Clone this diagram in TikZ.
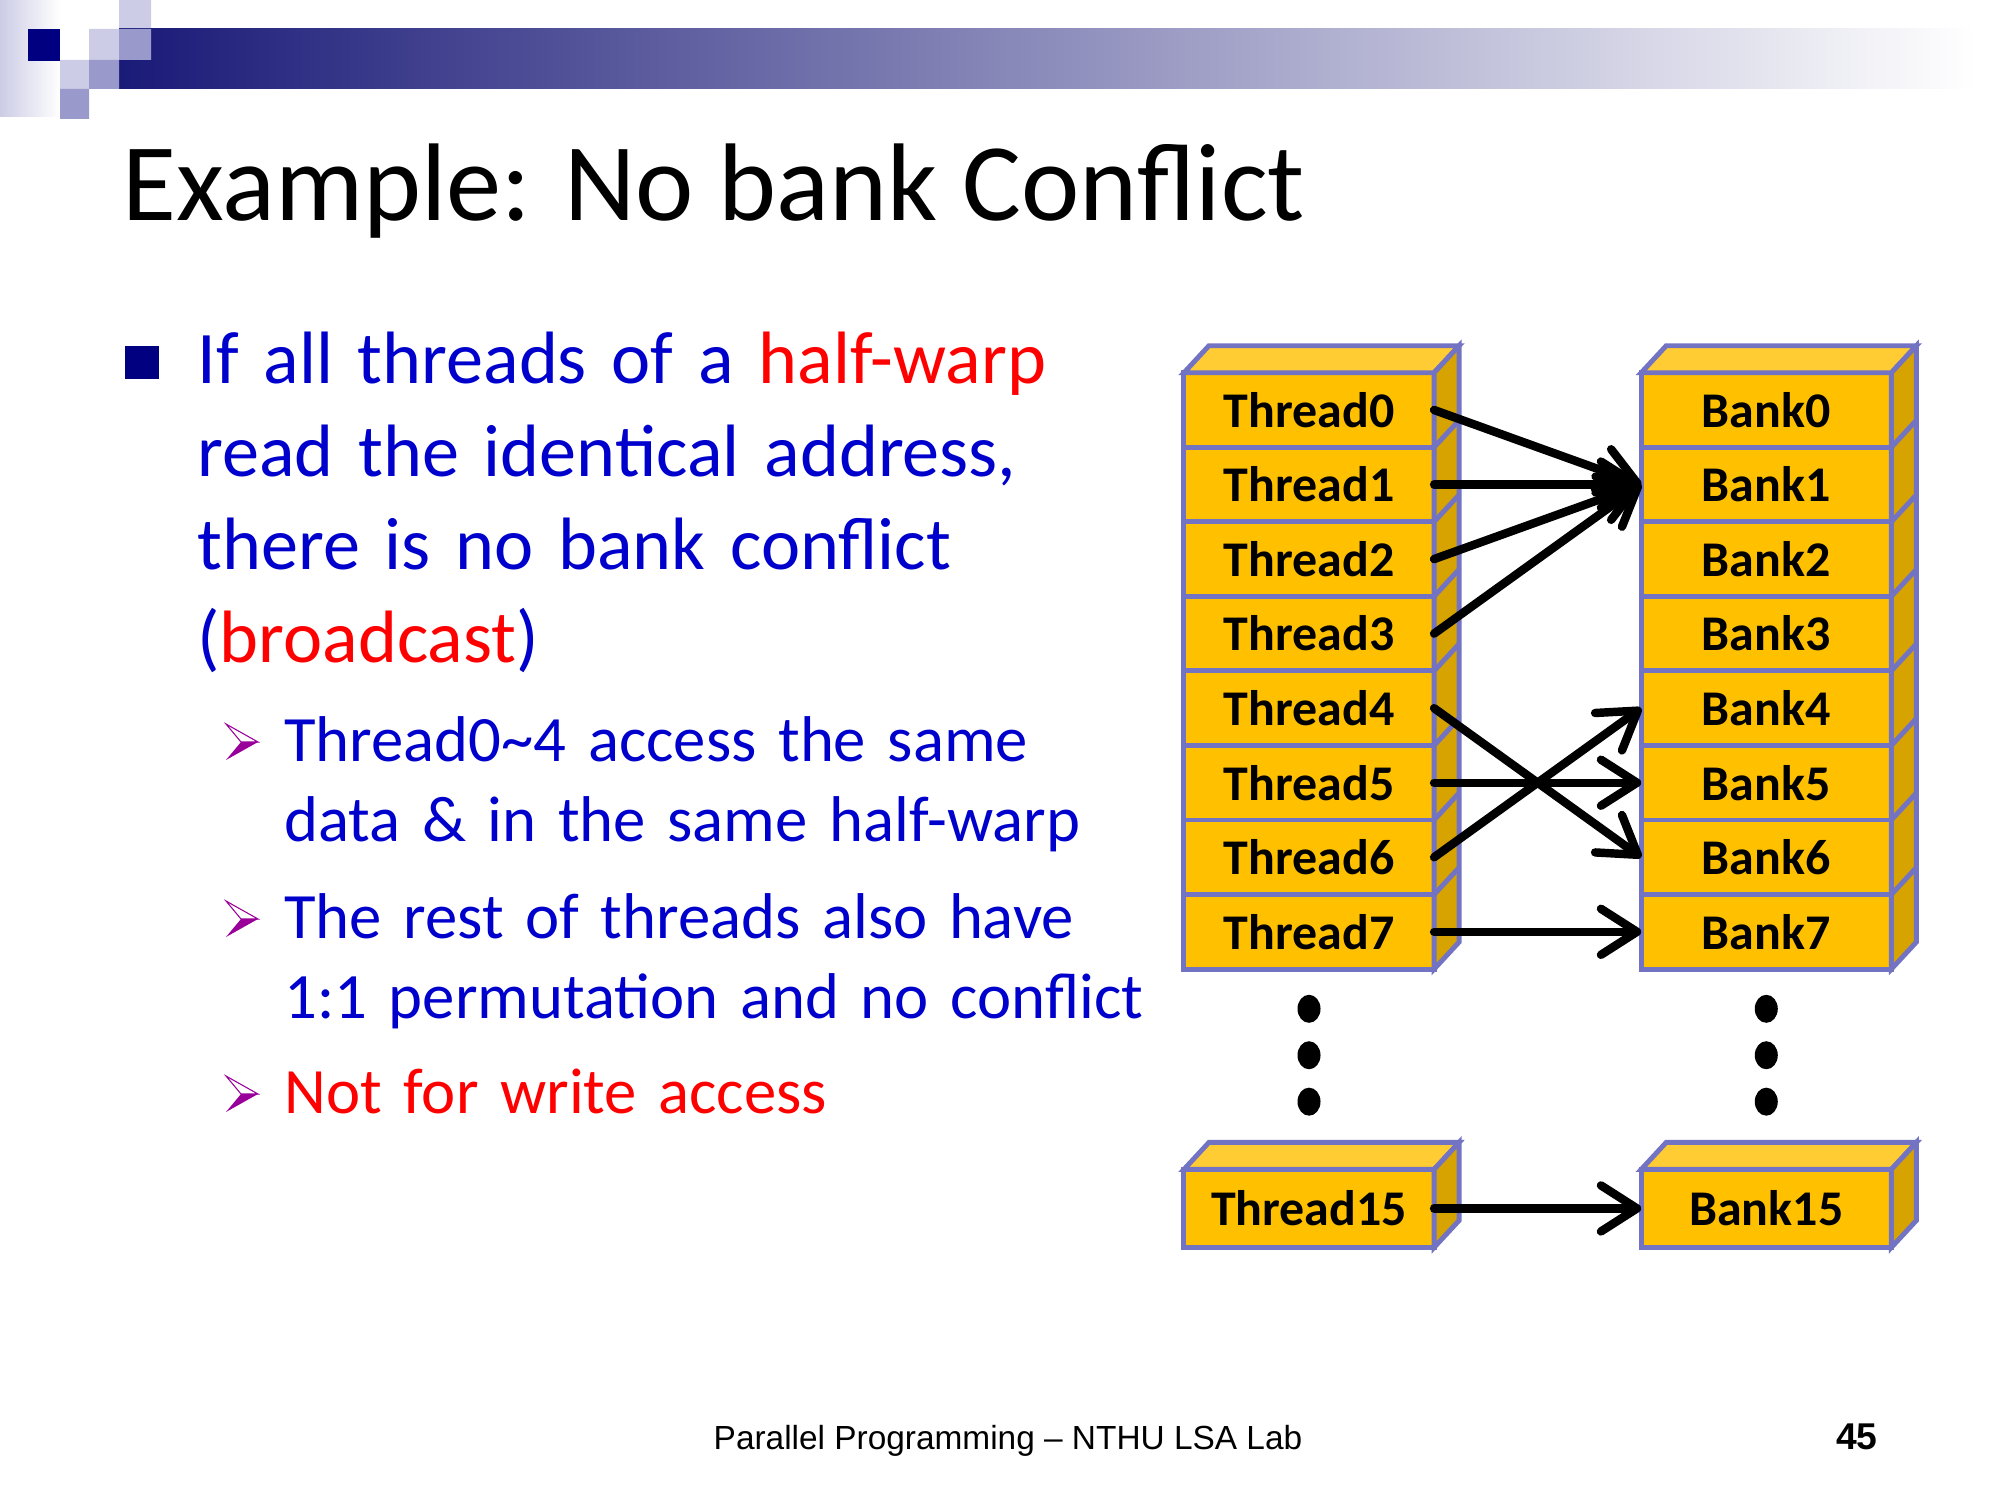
\documentclass[tikz,border=0pt]{standalone}
\usepackage{fontspec}
\setmainfont{Carlito}
\newfontfamily\footfont{Liberation Sans}
\usetikzlibrary{positioning,arrows.meta,shapes.geometric}

\definecolor{cellfront}{RGB}{255,192,0}
\definecolor{celltop}{RGB}{255,204,51}
\definecolor{cellside}{RGB}{214,163,0}
\definecolor{cellline}{RGB}{115,115,195}
\definecolor{slideblue}{RGB}{0,0,204}
\definecolor{slidered}{RGB}{255,0,0}
\definecolor{bulletnavy}{RGB}{0,0,128}
\definecolor{tippurple}{RGB}{153,0,153}
\definecolor{bannernavy}{RGB}{26,26,120}
\definecolor{lightlav}{RGB}{204,204,230}
\definecolor{midlav}{RGB}{153,153,204}

\begin{document}
\begin{tikzpicture}[x=0.01cm,y=-0.01cm,
    cell/.style={rectangle, draw=cellline, fill=cellfront, line width=1.4pt,
      minimum width=2.5cm, minimum height=0.745cm, inner sep=0pt, outer sep=0pt,
      font=\bfseries\fontsize{14.2}{17}\selectfont},
    topface/.style={draw=cellline, fill=celltop, line width=1.4pt},
    sideface/.style={draw=cellline, fill=cellside, line width=1.4pt},
    vdot/.style={ellipse, fill=black, minimum width=0.23cm, minimum height=0.28cm, inner sep=0pt},
    link/.style={line width=2.4pt, line cap=round, -{Straight Barb[length=3.6mm,width=4.6mm,round]}},
    maintext/.style={anchor=base west, text width=11cm, align=left, text=slideblue,
      font=\fontsize{21.1}{26.5}\selectfont},
    subtext/.style={anchor=base west, text width=9.5cm, align=left, text=slideblue,
      font=\fontsize{18.4}{22.8}\selectfont}]

    \useasboundingbox (0,0) rectangle (2000,1500);

    % Banner
    \shade[left color=lightlav, right color=white] (0,0) rectangle (60,117);
    \fill[lightlav] (89,29) rectangle (119,60) (119,0) rectangle (151,29) (60,60) rectangle (89,89);
    \shade[left color=bannernavy, right color=white] (119,29) rectangle (1975,89);
    \fill[midlav] (119,29) rectangle (151,60) (89,60) rectangle (119,89) (60,89) rectangle (89,119);
    \fill[bulletnavy] (28,29) rectangle (60,61);

    % Text
    \node[anchor=base west, font=\fontsize{31.4}{37}\selectfont] (title) at (110,220) {Example: No bank Conflict};

    \fill[bulletnavy] (125,346) rectangle (159,379);
    \node[maintext] (bullet) at (185,383) {If all threads of a \textcolor{slidered}{half-warp}\\
      read the identical address,\\there is no bank conflict\\(\textcolor{slidered}{broadcast})};

    \foreach \y in {742,919,1094} {
      \fill[tippurple] (241,\y) -- ++(17,0) -- ++(-32,18) -- cycle;
      \draw[tippurple, line width=0.3pt] (241,\y) -- ++(17,0) -- ++(-32,-18) -- cycle;
    }
    \node[subtext] (sub1) at (272,761) {Thread0\textasciitilde4 access the same\\data \& in the same half-warp};
    \node[subtext] (sub2) at (272,938) {The rest of threads also have\\1:1 permutation and no conflict};
    \node[subtext, text=slidered] (sub3) at (272,1113) {Not for write access};

    % Threads
    \node[cell] (t0) at (1309,410) {Thread0}; %
    \node[cell, below=0pt of t0] (t1) {Thread1}; %
    \node[cell, below=0pt of t1] (t2) {Thread2}; %
    \node[cell, below=0pt of t2] (t3) {Thread3}; %
    \node[cell, below=0pt of t3] (t4) {Thread4}; %
    \node[cell, below=0pt of t4] (t5) {Thread5}; %
    \node[cell, below=0pt of t5] (t6) {Thread6}; %
    \node[cell, below=0pt of t6] (t7) {Thread7}; %
    \node[vdot, below=0.25cm of t7] (td1) {}; %
    \node[vdot, below=0.17cm of td1] (td2) {}; %
    \node[vdot, below=0.17cm of td2] (td3) {}; %
    \node[cell, minimum height=0.78cm, below=0.53cm of td3] (t15) {Thread15}; %

    % Banks
    \node[cell, right=2.07cm of t0] (b0) {Bank0}; %
    \node[cell, below=0pt of b0] (b1) {Bank1}; %
    \node[cell, below=0pt of b1] (b2) {Bank2}; %
    \node[cell, below=0pt of b2] (b3) {Bank3}; %
    \node[cell, below=0pt of b3] (b4) {Bank4}; %
    \node[cell, below=0pt of b4] (b5) {Bank5}; %
    \node[cell, below=0pt of b5] (b6) {Bank6}; %
    \node[cell, below=0pt of b6] (b7) {Bank7}; %
    \node[vdot, below=0.25cm of b7] (bd1) {}; %
    \node[vdot, below=0.17cm of bd1] (bd2) {}; %
    \node[vdot, below=0.17cm of bd2] (bd3) {}; %
    \node[cell, minimum height=0.78cm, below=0.53cm of bd3] (b15) {Bank15}; %

    % Faces
    \draw[topface] (t0.north west) -- ++(25,-27) -- ([shift={(25,-27)}]t0.north east) -- (t0.north east) -- cycle;
    \draw[sideface] (t0.north east) -- ++(25,-27) -- ([shift={(25,-27)}]t7.south east) -- (t7.south east) -- cycle;
    \draw[cellline, line width=1.4pt] (t0.south east) -- ++(25,-27) (t1.south east) -- ++(25,-27)
      (t2.south east) -- ++(25,-27) (t3.south east) -- ++(25,-27) (t4.south east) -- ++(25,-27)
      (t5.south east) -- ++(25,-27) (t6.south east) -- ++(25,-27);
    \draw[topface] (b0.north west) -- ++(25,-27) -- ([shift={(25,-27)}]b0.north east) -- (b0.north east) -- cycle;
    \draw[sideface] (b0.north east) -- ++(25,-27) -- ([shift={(25,-27)}]b7.south east) -- (b7.south east) -- cycle;
    \draw[cellline, line width=1.4pt] (b0.south east) -- ++(25,-27) (b1.south east) -- ++(25,-27)
      (b2.south east) -- ++(25,-27) (b3.south east) -- ++(25,-27) (b4.south east) -- ++(25,-27)
      (b5.south east) -- ++(25,-27) (b6.south east) -- ++(25,-27);
    \draw[topface] (t15.north west) -- ++(25,-27) -- ([shift={(25,-27)}]t15.north east) -- (t15.north east) -- cycle;
    \draw[sideface] (t15.north east) -- ++(25,-27) -- ([shift={(25,-27)}]t15.south east) -- (t15.south east) -- cycle;
    \draw[topface] (b15.north west) -- ++(25,-27) -- ([shift={(25,-27)}]b15.north east) -- (b15.north east) -- cycle;
    \draw[sideface] (b15.north east) -- ++(25,-27) -- ([shift={(25,-27)}]b15.south east) -- (b15.south east) -- cycle;

    % Links
    \draw[link] (t0.east) -- (b1.west); %
    \draw[link] (t1.east) -- (b1.west); %
    \draw[link] (t2.east) -- (b1.west); %
    \draw[link] (t3.east) -- (b1.west); %
    \draw[link] (t4.east) -- (b6.west); %
    \draw[link] (t5.east) -- (b5.west); %
    \draw[link] (t6.east) -- (b4.west); %
    \draw[link] (t7.east) -- (b7.west); %
    \draw[link] (t15.east) -- (b15.west); %

    % Footer
    \node[anchor=base, font=\footfont\fontsize{9.5}{11}\selectfont] (footer) at (1008,1449) {Parallel Programming – NTHU LSA Lab};
    \node[anchor=base east, font=\footfont\bfseries\fontsize{10.6}{12}\selectfont] (pageno) at (1890,1449) {45};

\end{tikzpicture}
\end{document}
